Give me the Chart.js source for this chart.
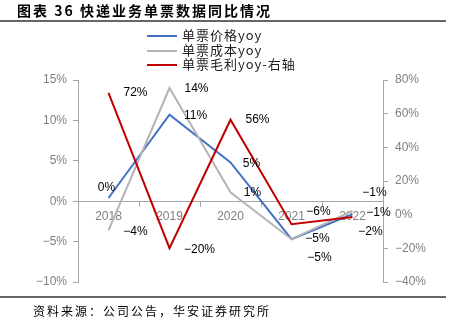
<!DOCTYPE html>
<html>
<head>
<meta charset="utf-8">
<script src="https://cdn.jsdelivr.net/npm/chart.js@4/dist/chart.umd.min.js"></script>
<style>
  body { margin: 0; background: #fff; }
  #page { position: relative; width: 451px; height: 331px; overflow: hidden; }
  #title { position: absolute; left: 17px; top: 0; line-height: 17px; font: bold 14px "Noto Sans CJK SC", sans-serif; letter-spacing: 2px; color: #000; white-space: nowrap; }
  .rule { position: absolute; left: 0; width: 446px; height: 2px; background: #666; }
  #legend { position: absolute; left: 147px; top: 28px; font: 13px "Noto Sans CJK SC", sans-serif; letter-spacing: 1px; color: #222; }
  #legend div { height: 14.5px; line-height: 14.5px; white-space: nowrap; }
  #legend span.swatch { display: inline-block; width: 30px; height: 2px; vertical-align: middle; margin-right: 5px; }
  #source { position: absolute; left: 33px; top: 302px; line-height: 16px; font: 12px "Noto Sans CJK SC", sans-serif; letter-spacing: 2px; color: #000; white-space: nowrap; }
  canvas { position: absolute; left: 0; top: 0; }
</style>
</head>
<body>
<div id="page">
  <canvas id="myChart" width="451" height="331"></canvas>
  <div id="title">图表 36 快递业务单票数据同比情况</div>
  <div class="rule" style="top:20px"></div>
  <div id="legend"></div>
  <div class="rule" style="top:296px"></div>
  <div id="source">资料来源：公司公告，华安证券研究所</div>
</div>
<script>
// categories and series (yoy, %)
const years = ['2018', '2019', '2020', '2021', '2022'];
const priceYoy = [0.4, 10.7, 4.8, -4.7, -1.6];
const costYoy = [-3.6, 14.0, 1.1, -4.7, -1.2];
const profitYoy = [72.3, -19.9, 56.4, -5.7, -1.4]; // right axis

const leftTicks = [-10, -5, 0, 5, 10, 15];
const rightTicks = [-40, -20, 0, 20, 40, 60, 80];

// where each value label sits relative to its point (x, y px)
const labelOffsets = {
  price: [[-2, -10], [26, 1], [21, 1], [26, 0], [18, 18]],
  cost: [[27, 1], [27, 1], [22, 0], [28, 19], [22, -18]],
  profit: [[27, 0], [30, 2], [27, 0], [27, -13], [26, -4]]
};

const MINUS = '\u2212';
function pct(v) {
  let r = Math.round(v);
  return (r < 0 ? MINUS + Math.abs(r) : r) + '%';
}

const axisGray = '#a6a6a6';
const tickFont = { family: 'Liberation Sans', size: 12 };

// draws the value labels next to each point
const valueLabels = {
  id: 'valueLabels',
  afterDatasetsDraw(chart) {
    let ctx = chart.ctx;
    ctx.save();
    ctx.font = '12px "Liberation Sans"';
    ctx.fillStyle = '#000';
    ctx.textAlign = 'center';
    ctx.textBaseline = 'middle';
    chart.data.datasets.forEach((ds, i) => {
      let meta = chart.getDatasetMeta(i);
      meta.data.forEach((pt, j) => {
        let off = labelOffsets[ds.key][j];
        ctx.fillText(pct(ds.data[j]), pt.x + off[0], pt.y + off[1]);
      });
    });
    ctx.restore();
  }
};

let ctx = document.getElementById('myChart').getContext('2d');
let myChart = new Chart(ctx, {
  type: 'line',
  data: {
    labels: years,
    datasets: [
      { key: 'price', label: '单票价格yoy', data: priceYoy, borderColor: '#4472c4', yAxisID: 'y', order: 3 },
      { key: 'cost', label: '单票成本yoy', data: costYoy, borderColor: '#b4b4b4', yAxisID: 'y', order: 2 },
      { key: 'profit', label: '单票毛利yoy-右轴', data: profitYoy, borderColor: '#c00000', yAxisID: 'y1', order: 1 }
    ]
  },
  options: {
    responsive: false,
    devicePixelRatio: 1,
    animation: false,
    elements: {
      line: { borderWidth: 2, tension: 0, fill: false },
      point: { radius: 0, hoverRadius: 0 }
    },
    layout: { padding: { top: 80, bottom: 49, left: 0, right: 0 } },
    plugins: {
      legend: { display: false },
      tooltip: { enabled: false }
    },
    scales: {
      x: {
        position: { y: 0 },
        offset: true,
        grid: { offset: true, drawOnChartArea: false, tickLength: 5, color: axisGray },
        border: { color: axisGray, width: 1 },
        ticks: { color: '#808080', font: tickFont, padding: 3, maxRotation: 0 }
      },
      y: {
        position: 'left',
        min: -10,
        max: 15,
        afterBuildTicks: s => { s.ticks = leftTicks.map(v => ({ value: v })); },
        afterFit: s => { s.width = 78; },
        grid: { drawOnChartArea: false, tickLength: 5, color: axisGray },
        border: { color: axisGray, width: 1 },
        ticks: { color: '#808080', font: tickFont, padding: 6, callback: v => pct(v) }
      },
      y1: {
        position: 'right',
        min: -40,
        max: 80,
        afterBuildTicks: s => { s.ticks = rightTicks.map(v => ({ value: v })); },
        afterFit: s => { s.width = 68; },
        grid: { drawOnChartArea: false, tickLength: 5, color: axisGray },
        border: { color: axisGray, width: 1 },
        ticks: { color: '#808080', font: tickFont, padding: 7, callback: v => pct(v) }
      }
    }
  },
  plugins: [valueLabels]
});

// legend built from the datasets, one per row
let legendDiv = document.getElementById('legend');
myChart.data.datasets.forEach(ds => {
  let row = document.createElement('div');
  let sw = document.createElement('span');
  sw.className = 'swatch';
  sw.style.background = ds.borderColor;
  row.appendChild(sw);
  row.appendChild(document.createTextNode(ds.label));
  legendDiv.appendChild(row);
});
</script>
</body>
</html>
